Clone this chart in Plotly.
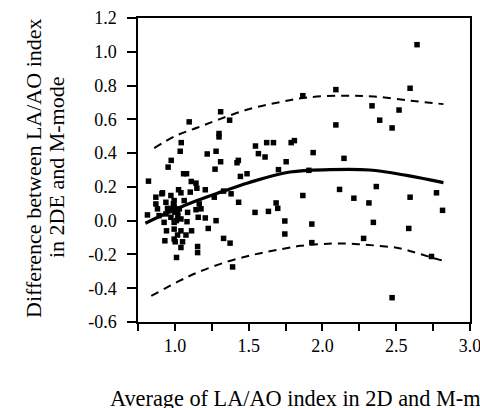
import plotly.graph_objects as go

# Scatter data (average, difference)
avg = [0.821, 0.871, 0.912, 0.954, 0.975, 1.025, 1.036, 1.043, 1.059, 1.079, 1.097, 1.111, 1.143, 1.149,
       1.206, 1.219, 1.279, 1.272, 1.299, 1.299, 1.310, 1.310, 1.371, 1.421, 1.430, 1.444, 1.489, 1.546,
       1.566, 1.611, 1.622, 1.668, 1.702, 2.641, 2.091, 2.594, 1.867, 2.336, 2.519, 2.091, 2.388, 2.472,
       1.788, 1.810, 1.754, 1.937, 1.908, 2.146, 1.867, 2.116, 2.213, 2.365, 2.594, 2.773, 1.686, 1.697,
       1.634, 2.315, 2.814, 1.745, 1.928, 2.345, 1.745, 2.585, 2.279, 2.739, 2.472, 1.928, 1.543,
       0.916, 1.041, 1.104, 1.267, 1.330, 1.381, 1.432, 0.973, 0.871, 0.939, 0.995, 1.063, 0.882, 0.950,
       0.995, 1.165, 1.177, 1.143, 1.086, 0.814, 0.893, 0.939, 0.973, 1.018, 1.041, 0.961, 0.984, 1.158,
       1.206, 1.279, 1.082, 0.995, 0.927, 1.226, 0.943, 0.995, 1.041, 1.113, 1.018, 1.075, 0.932, 0.995,
       1.002, 1.052, 1.041, 1.154, 1.154, 1.330, 1.374, 1.011, 1.391, 1.000, 1.020, 0.990, 1.030, 1.010]
diff = [0.234, 0.139, 0.159, 0.317, 0.357, 0.183, 0.411, 0.462, 0.278, 0.278, 0.585, 0.232, 0.222, 0.192,
        0.183, 0.395, 0.411, 0.305, 0.516, 0.496, 0.645, 0.349, 0.595, 0.343, 0.357, 0.262, 0.278, 0.442,
        0.397, 0.377, 0.462, 0.462, 0.302, 1.042, 0.776, 0.784, 0.740, 0.680, 0.655, 0.567, 0.595, 0.549,
        0.462, 0.474, 0.349, 0.403, 0.298, 0.369, 0.149, 0.185, 0.133, 0.202, 0.139, 0.165, 0.105, 0.073,
        0.055, 0.105, 0.061, -0.002, -0.020, -0.010, -0.079, -0.046, -0.105, -0.212, -0.456, -0.130, 0.049,
        0.165, 0.165, 0.169, 0.139, 0.175, 0.159, 0.109, 0.149, 0.099, 0.109, 0.119, 0.119, 0.070, 0.073,
        0.085, 0.099, 0.070, 0.065, 0.049, 0.034, 0.030, 0.040, 0.020, 0.049, 0.010, 0.060, 0.070, 0.020,
        0.016, 0.000, -0.006, -0.010, -0.010, -0.046, -0.060, -0.050, -0.060, -0.060, -0.085, -0.085, -0.119, -0.109,
        -0.125, -0.125, -0.159, -0.153, -0.189, -0.105, -0.133, -0.218, -0.274, 0.050, 0.030, 0.100, 0.070, 0.000]

# Mean curve
mean_x = [0.80, 0.97, 1.15, 1.31, 1.50, 1.78, 2.05, 2.32, 2.57, 2.82]
mean_y = [-0.015, 0.054, 0.119, 0.169, 0.225, 0.288, 0.302, 0.300, 0.268, 0.225]
# Upper limit
upper_x = [0.86, 1.00, 1.15, 1.30, 1.50, 1.70, 1.90, 2.15, 2.35, 2.60, 2.82]
upper_y = [0.43, 0.50, 0.55, 0.60, 0.66, 0.70, 0.73, 0.74, 0.735, 0.71, 0.69]
# Lower limit
lower_x = [0.84, 1.03, 1.15, 1.35, 1.55, 1.72, 1.85, 1.98, 2.10, 2.24, 2.38, 2.52, 2.63, 2.74, 2.82]
lower_y = [-0.446, -0.357, -0.308, -0.244, -0.198, -0.169, -0.149, -0.139, -0.135, -0.139, -0.149,
           -0.163, -0.189, -0.218, -0.238]

x_tickvals = [0.75, 1.0, 1.25, 1.5, 1.75, 2.0, 2.25, 2.5, 2.75, 3.0]
x_ticktext = ["", "1.0", "", "1.5", "", "2.0", "", "2.5", "", "3.0"]
y_tickvals = [-0.6, -0.4, -0.2, 0.0, 0.2, 0.4, 0.6, 0.8, 1.0, 1.2]
y_ticktext = ["-0.6", "-0.4", "-0.2", "0.0", "0.2", "0.4", "0.6", "0.8", "1.0", "1.2"]

x_title = "Average of LA/AO index in 2D and M-mode"
y_title_lines = ["Difference between LA/AO index", "in 2DE and M-mode"]

FONT = "Liberation Serif, Times New Roman, serif"

fig = go.Figure()
fig.add_trace(go.Scatter(x=avg, y=diff, mode="markers",
                         marker=dict(symbol="square", size=5.5, color="black", line=dict(width=0))))
fig.add_trace(go.Scatter(x=mean_x, y=mean_y, mode="lines",
                         line=dict(color="black", width=3.2, shape="spline")))
fig.add_trace(go.Scatter(x=upper_x, y=upper_y, mode="lines",
                         line=dict(color="black", width=2, shape="spline", dash="8px,6px")))
fig.add_trace(go.Scatter(x=lower_x, y=lower_y, mode="lines",
                         line=dict(color="black", width=2, shape="spline", dash="8px,6px")))

L, R, T, B, W, H = 138, 10, 18, 86, 480, 408
pw = W - L - R
ph = H - T - B

def px_x(p):
    return (p - L) / pw

def px_y(p):
    return (H - B - p) / ph

fig.update_layout(
    width=W, height=H,
    margin=dict(l=L, r=R, t=T, b=B, autoexpand=False),
    paper_bgcolor="white", plot_bgcolor="white",
    showlegend=False,
    font=dict(family=FONT, size=18, color="black"),
    xaxis=dict(range=[0.75, 3.0], tickvals=x_tickvals, ticktext=x_ticktext, automargin=False,
               ticklabeloverflow="allow",
               showgrid=False, zeroline=False, showline=True, linecolor="black", linewidth=1.5,
               mirror=True, ticks="outside", ticklen=7, tickwidth=1.5, tickcolor="black",
               tickfont=dict(family=FONT, size=18)),
    yaxis=dict(range=[-0.6, 1.2], tickvals=y_tickvals, ticktext=y_ticktext, automargin=False,
               ticklabeloverflow="allow", ticklabelstandoff=7,
               showgrid=False, zeroline=False, showline=True, linecolor="black", linewidth=1.5,
               mirror=True, ticks="outside", ticklen=9, tickwidth=1.5, tickcolor="black",
               tickfont=dict(family=FONT, size=18)),
    annotations=[
        dict(text=x_title, xref="paper", yref="paper",
             x=px_x(108), y=px_y(398), xanchor="left", yanchor="middle", showarrow=False,
             font=dict(family=FONT, size=22.3)),
        dict(text=y_title_lines[0], xref="paper", yref="paper",
             x=px_x(33), y=px_y(168), xanchor="center", yanchor="middle", showarrow=False, textangle=-90,
             font=dict(family=FONT, size=22)),
        dict(text=y_title_lines[1], xref="paper", yref="paper",
             x=px_x(56), y=px_y(168), xanchor="center", yanchor="middle", showarrow=False, textangle=-90,
             font=dict(family=FONT, size=22)),
    ],
)

fig.write_html("out.html", config={"displayModeBar": False},
               post_script="document.body.style.margin='0';")
